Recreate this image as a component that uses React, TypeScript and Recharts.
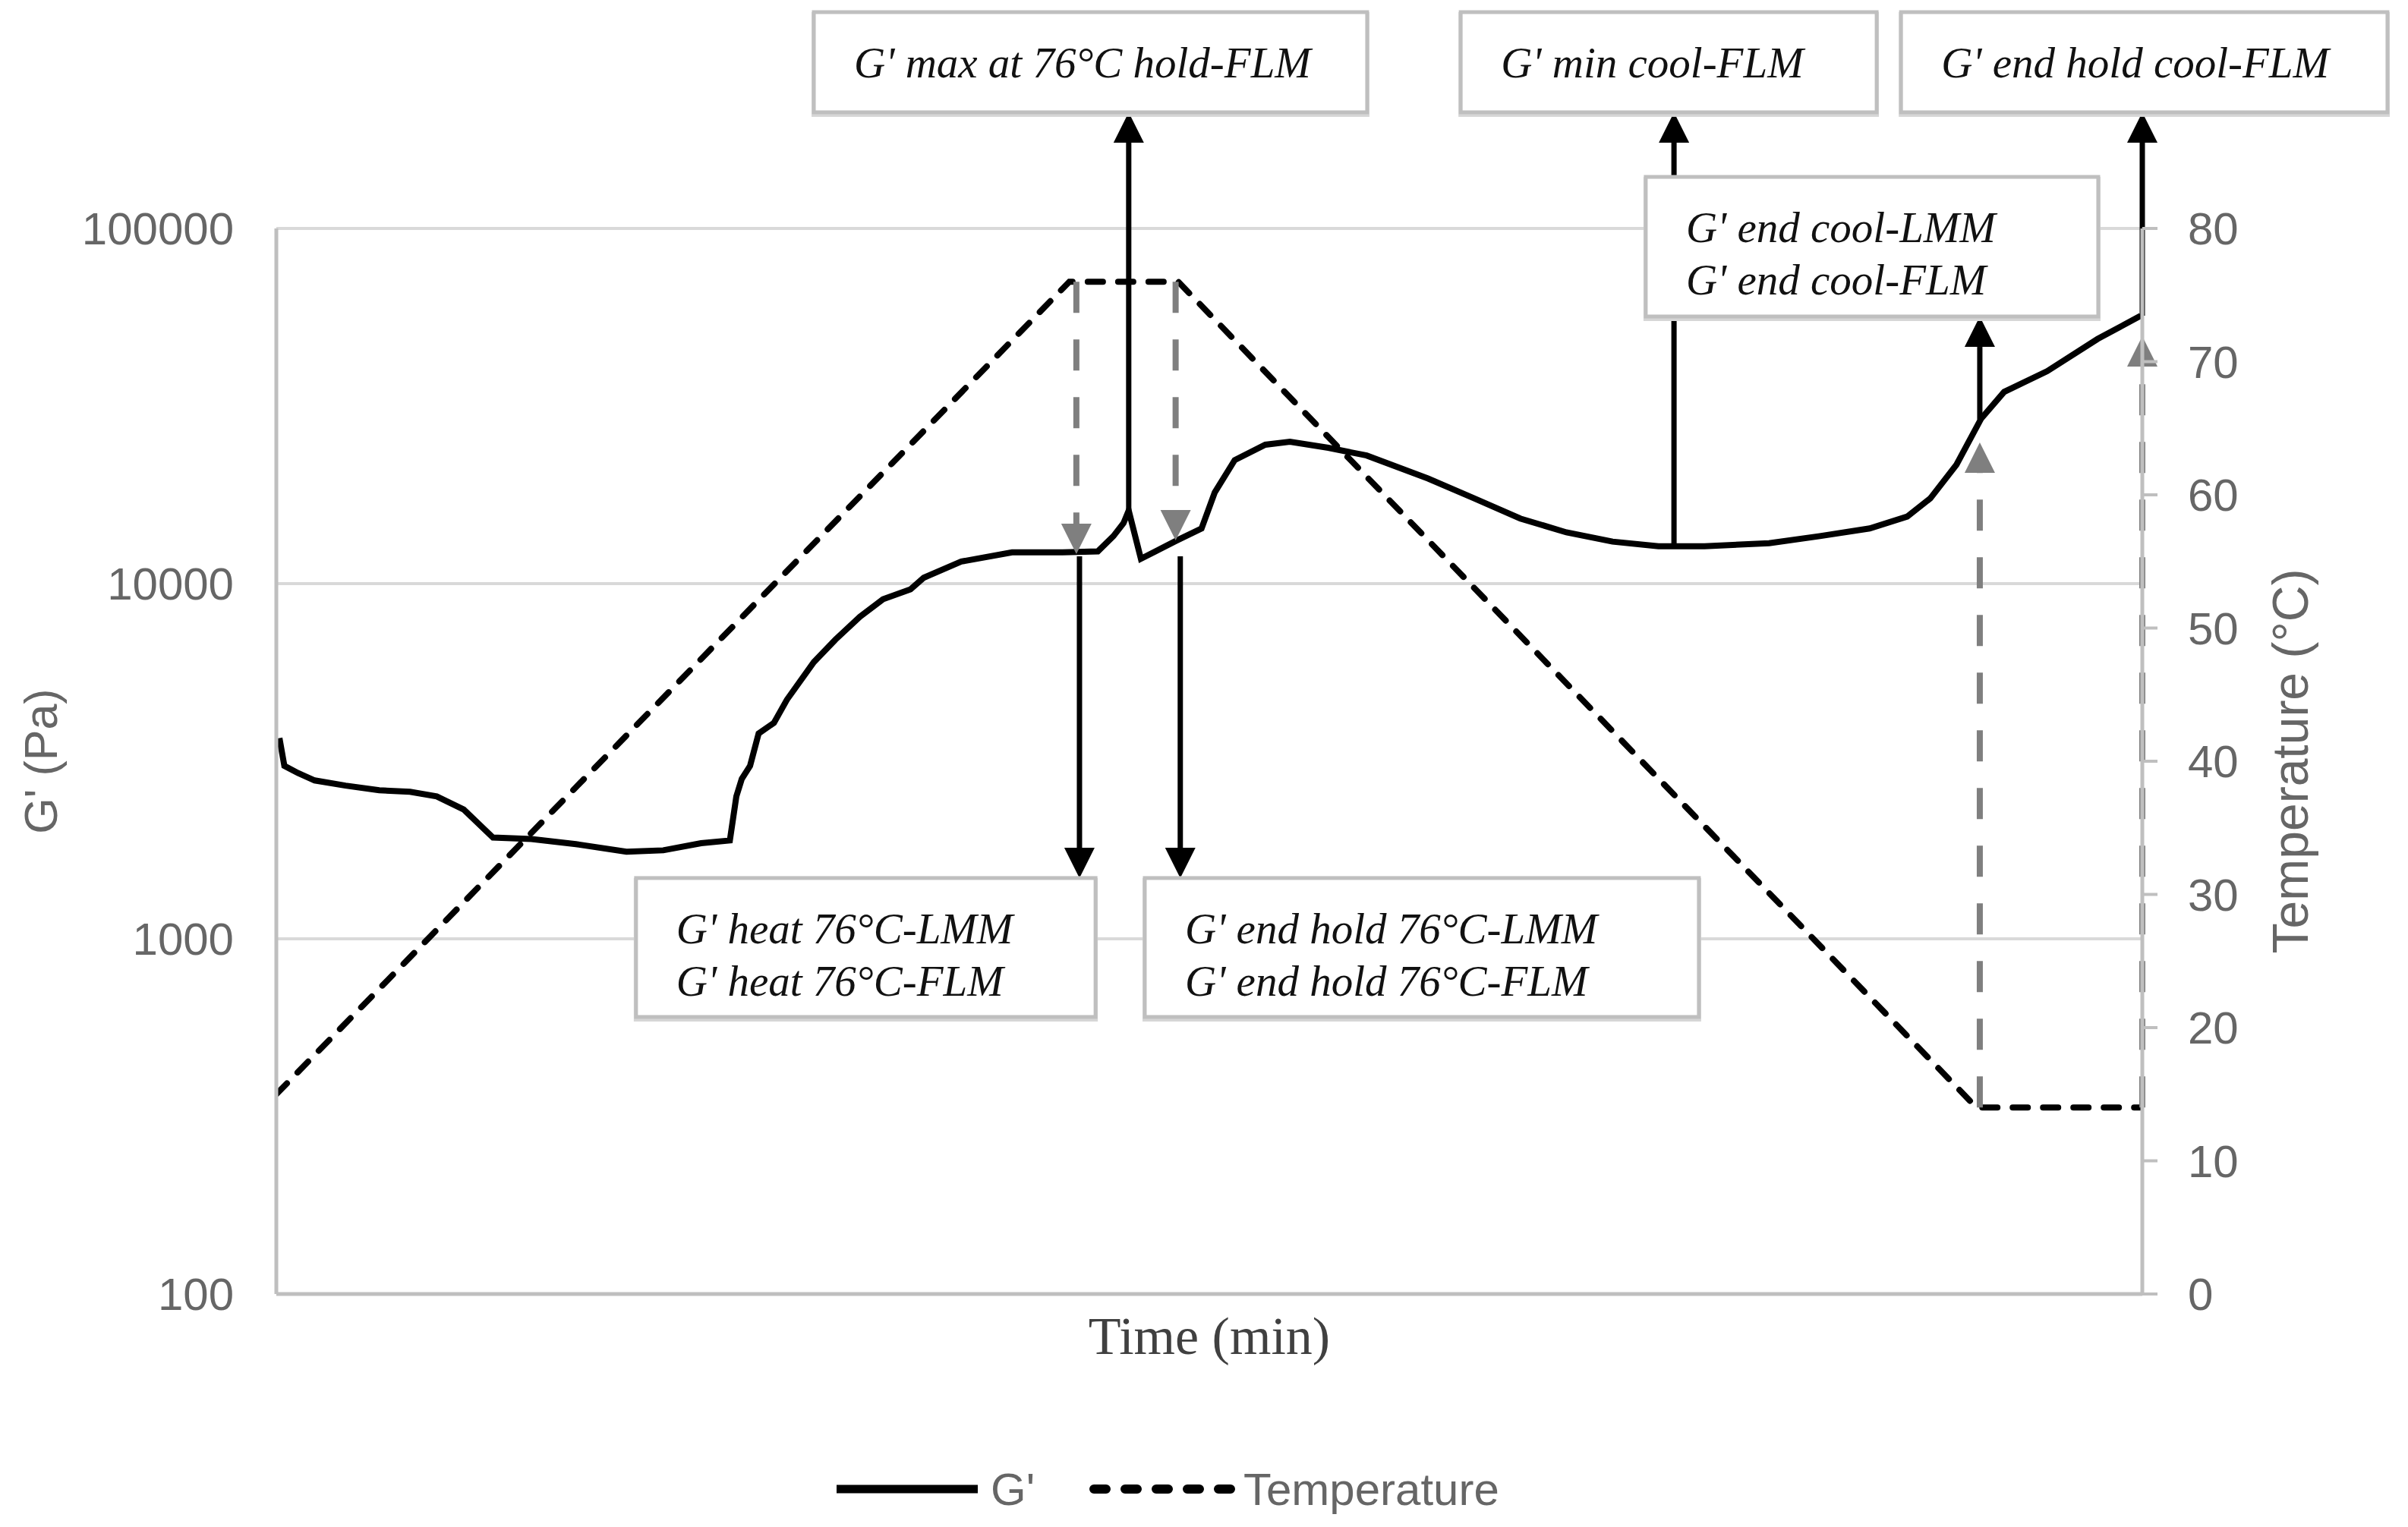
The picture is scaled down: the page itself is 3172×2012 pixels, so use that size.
import { LineChart, Line, XAxis, YAxis, CartesianGrid, ReferenceLine, ReferenceArea, Legend } from "recharts";

const SANS = "Liberation Sans, Arial, sans-serif";
const SERIF = "Liberation Serif, Times New Roman, serif";

// G' (Pa) vs time (min)
const gTime = [0.12, 0.31, 0.83, 1.48, 2.67, 3.97, 5.16, 6.19, 7.23, 8.36, 9.84, 11.56, 13.51, 14.93, 16.39, 17.5, 17.75, 17.96, 18.28, 18.61, 19.2, 19.7, 20.74, 21.57, 22.52, 23.41, 24.47, 24.98, 26.43, 28.39, 30.34, 31.7, 32.3, 32.69, 32.89, 33.36, 34.73, 35.7, 36.21, 36.98, 38.16, 39.11, 40.59, 42.07, 44.44, 46.22, 48.0, 49.78, 51.56, 53.33, 55.11, 57.6, 59.56, 61.48, 62.93, 63.82, 64.83, 65.78, 66.67, 68.33, 70.28, 71.94];
const gValue = [3673, 3069, 2930, 2792, 2700, 2620, 2594, 2518, 2313, 1928, 1909, 1848, 1759, 1775, 1858, 1892, 2518, 2820, 3069, 3784, 4056, 4710, 6012, 6950, 8070, 9040, 9640, 10390, 11540, 12250, 12250, 12330, 13610, 14800, 16060, 11750, 13210, 14300, 18060, 22270, 24610, 25100, 24120, 22950, 19770, 17380, 15250, 13940, 13130, 12740, 12740, 13000, 13610, 14300, 15450, 17380, 21630, 29130, 34670, 39650, 48870, 56770];

// temperature program (°C)
const tempTime = [0, 30.6, 34.8, 65.6, 72];
const tempValue = [15, 76, 76, 14, 14];

const gTicks = [100, 1000, 10000, 100000];
const tempTicks = [0, 10, 20, 30, 40, 50, 60, 70, 80];

const gData = gTime.map((t, i) => ({ t, g: gValue[i] }));
const tempData = tempTime.map((t, i) => ({ t, temp: tempValue[i] }));

// annotation boxes, placed in time / temperature-axis units
const notes = [
  { lines: ["G' max at 76°C hold-FLM"], t1: 20.74, t2: 42.09, y1: 96.24, y2: 88.72 },
  { lines: ["G' min cool-FLM"], t1: 45.7, t2: 61.75, y1: 96.24, y2: 88.72 },
  { lines: ["G' end hold cool-FLM"], t1: 62.69, t2: 81.46, y1: 96.24, y2: 88.72 },
  { lines: ["G' end cool-LMM", "G' end cool-FLM"], t1: 52.84, t2: 70.3, y1: 83.87, y2: 73.39 },
  { lines: ["G' heat 76°C-LMM", "G' heat 76°C-FLM"], t1: 13.88, t2: 31.61, y1: 31.23, y2: 20.8 },
  { lines: ["G' end hold 76°C-LMM", "G' end hold 76°C-FLM"], t1: 33.51, t2: 54.89, y1: 31.23, y2: 20.8 },
];

// black pointers from the G' curve to the boxes (G' axis units)
// the "min cool" pointer runs behind the "end cool" box, so it is drawn in two pieces
const pointers = [
  { t: 32.89, from: 16060, to: 212300, head: true },
  { t: 30.99, from: 11940, to: 1482, head: true },
  { t: 34.88, from: 11940, to: 1482, head: true },
  { t: 53.93, from: 12740, to: 56500, head: false },
  { t: 53.93, from: 98000, to: 212300, head: true },
  { t: 65.73, from: 29000, to: 56500, head: true },
  { t: 72, from: 56770, to: 212300, head: true },
];

// grey dashed pointers from the temperature trace to the G' curve (°C units)
const markers = [
  { t: 30.87, from: 76, to: 55.56 },
  { t: 34.7, from: 76, to: 56.58 },
  { t: 65.73, from: 14, to: 63.93 },
  { t: 72, from: 14, to: 71.91 },
];

const arrow = (color: string, width: number, head: number, dash?: string) => (p: any) => {
  const x1 = Number(p.x1), y1 = Number(p.y1), x2 = Number(p.x2), y2 = Number(p.y2);
  if (!head) {
    return <line x1={x1} y1={y1} x2={x2} y2={y2} stroke={color} strokeWidth={width} strokeDasharray={dash} />;
  }
  const dir = y2 > y1 ? 1 : -1;
  const base = y2 - dir * head;
  return (
    <g>
      <line x1={x1} y1={y1} x2={x2} y2={base} stroke={color} strokeWidth={width} strokeDasharray={dash} />
      <polygon points={`${x2},${y2} ${x2 - head / 2},${base} ${x2 + head / 2},${base}`} fill={color} />
    </g>
  );
};

const box = (lines: string[]) => (p: any) => {
  const { x, y, width, height } = p;
  return (
    <g>
      <rect x={x} y={y + 3} width={width} height={height} fill="none" stroke="#d6d6d6" strokeWidth={6} />
      <rect x={x} y={y} width={width} height={height} fill="#fff" stroke="#bfbfbf" strokeWidth={5} />
      {lines.map((s, i) => (
        <text key={i} x={x + 53} y={y + 86 + 69 * i} fontFamily={SERIF} fontStyle="italic" fontSize={57} fill="#111">
          {s}
        </text>
      ))}
    </g>
  );
};

const renderLegend = () => (
  <svg width={3172} height={90}>
    <line x1={1102} y1={45} x2={1288} y2={45} stroke="#000" strokeWidth={11} />
    <text x={1305} y={66} fontFamily={SANS} fontSize={60} fill="#666">G'</text>
    <line x1={1441} y1={45} x2={1624} y2={45} stroke="#000" strokeWidth={12} strokeDasharray="16 25" strokeLinecap="round" />
    <text x={1638} y={66} fontFamily={SANS} fontSize={60} fill="#666">Temperature</text>
  </svg>
);

export default function App() {
  return (
    <div style={{ position: "absolute", left: 0, top: 0, width: 3172, height: 2012, background: "#fff" }}>
      <LineChart width={3172} height={2012} margin={{ top: 301, right: 0, bottom: 0, left: 0 }}>
        <CartesianGrid vertical={false} yAxisId="g" stroke="#d9d9d9" strokeWidth={4} />
        <XAxis
          type="number"
          dataKey="t"
          domain={[0, 72]}
          allowDataOverflow
          tick={false}
          tickLine={false}
          axisLine={{ stroke: "#bfbfbf", strokeWidth: 5 }}
          height={307}
          label={{ value: "Time (min)", position: "insideTop", offset: 29, fill: "#404040", fontSize: 70, fontFamily: SERIF }}
        />
        <YAxis
          yAxisId="g"
          orientation="left"
          scale="log"
          domain={[100, 100000]}
          allowDataOverflow
          ticks={gTicks}
          width={364}
          tickLine={false}
          tickSize={0}
          tickMargin={56}
          axisLine={{ stroke: "#bfbfbf", strokeWidth: 5 }}
          tick={{ fontSize: 60, fill: "#666", fontFamily: SANS }}
          label={{ value: "G' (Pa)", angle: -90, position: "insideLeft", offset: 53, fill: "#666", fontSize: 61, fontFamily: SANS, style: { textAnchor: "middle" } }}
        />
        <YAxis
          yAxisId="temp"
          orientation="right"
          domain={[0, 80]}
          allowDataOverflow
          ticks={tempTicks}
          width={350}
          tickSize={20}
          tickMargin={40}
          tickLine={{ stroke: "#bfbfbf", strokeWidth: 4 }}
          axisLine={{ stroke: "#bfbfbf", strokeWidth: 5 }}
          tick={{ fontSize: 60, fill: "#666", fontFamily: SANS, textAnchor: "start" }}
          label={{ value: "Temperature (°C)", angle: -90, position: "insideRight", offset: 155, fill: "#666", fontSize: 66, fontFamily: SANS, style: { textAnchor: "middle" } }}
        />
        <Line
          data={tempData}
          dataKey="temp"
          yAxisId="temp"
          type="linear"
          stroke="#000"
          strokeWidth={8}
          strokeDasharray="20 20"
          strokeLinecap="round"
          dot={false}
          activeDot={false}
          isAnimationActive={false}
        />
        <Line
          data={gData}
          dataKey="g"
          yAxisId="g"
          type="linear"
          stroke="#000"
          strokeWidth={8}
          dot={false}
          activeDot={false}
          isAnimationActive={false}
        />
        {markers.map((m, i) => (
          <ReferenceLine
            key={"m" + i}
            yAxisId="temp"
            ifOverflow="visible"
            segment={[{ x: m.t, y: m.from }, { x: m.t, y: m.to }]}
            shape={arrow("#7f7f7f", 8, 40, "41 35")}
          />
        ))}
        {pointers.map((p, i) => (
          <ReferenceLine
            key={"p" + i}
            yAxisId="g"
            ifOverflow="visible"
            segment={[{ x: p.t, y: p.from }, { x: p.t, y: p.to }]}
            shape={arrow("#000", 7, p.head ? 40 : 0)}
          />
        ))}
        {notes.map((n, i) => (
          <ReferenceArea
            key={"n" + i}
            yAxisId="temp"
            ifOverflow="visible"
            x1={n.t1}
            x2={n.t2}
            y1={n.y1}
            y2={n.y2}
            zIndex={700}
            shape={box(n.lines)}
          />
        ))}
        <Legend
          layout="vertical"
          verticalAlign="middle"
          align="center"
          wrapperStyle={{ left: 0, top: 1917, width: 3172, height: 90 }}
          content={renderLegend}
        />
      </LineChart>
    </div>
  );
}
